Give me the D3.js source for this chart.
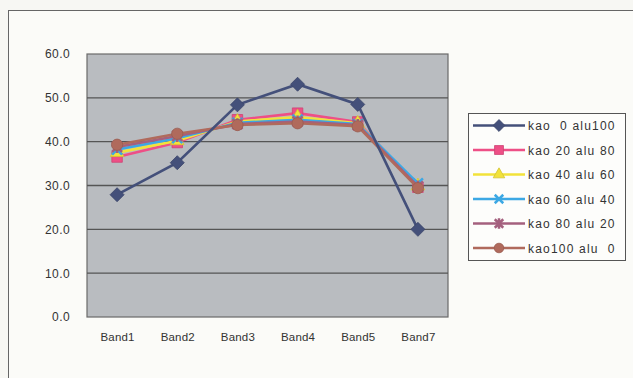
<!DOCTYPE html>
<html>
<head>
<meta charset="utf-8">
<script src="https://cdn.jsdelivr.net/npm/d3@7"></script>
<style>
  body { margin: 0; background: #f7f7f3; }
  text { font-family: "Liberation Sans", Arial, sans-serif; fill: #333; }
</style>
</head>
<body>
<div id="chart"></div>
<script>
// --------------- Data ---------------
const bands = ["Band1", "Band2", "Band3", "Band4", "Band5", "Band7"];
const yTicks = [0, 10, 20, 30, 40, 50, 60];
const seriesNames = ["kao  0 alu100", "kao 20 alu 80", "kao 40 alu 60", "kao 60 alu 40", "kao 80 alu 20", "kao100 alu  0"];
const kao0 = [27.9, 35.2, 48.4, 53.1, 48.5, 20.0];
const kao20 = [36.5, 39.8, 45.0, 46.5, 44.5, 29.6];
const kao40 = [37.5, 40.2, 44.6, 45.6, 44.2, 29.9];
const kao60 = [38.2, 40.8, 44.3, 45.0, 44.0, 30.5];
const kao80 = [38.8, 41.3, 44.0, 44.6, 43.8, 29.8];
const kao100 = [39.3, 41.8, 43.8, 44.2, 43.5, 29.4];

const colors = ["#44507a", "#ee4f86", "#f2e23a", "#3ca8e4", "#a4607e", "#b06a5c"];
const shapes = ["diamond", "square", "triangle", "cross", "star", "circle"];
const allSeries = [kao0, kao20, kao40, kao60, kao80, kao100];

// --------------- Layout ---------------
const W = 633, H = 378;
const PLOT = { left: 87, right: 448, top: 54, bottom: 317 };
const FONT = "'Liberation Sans', Arial, sans-serif";

const svg = d3.select("#chart").append("svg")
  .attr("width", W).attr("height", H);

// outer chart border
svg.append("rect")
  .attr("x", 8.5).attr("y", 10.5)
  .attr("width", 640).attr("height", 380)
  .attr("fill", "#fbfbf8").attr("stroke", "#666").attr("stroke-width", 1);

const x = d3.scalePoint().domain(bands)
  .range([PLOT.left, PLOT.right]).padding(0.5);
const y = d3.scaleLinear().domain([0, 60]).range([PLOT.bottom, PLOT.top]);

// plot background
svg.append("rect")
  .attr("x", PLOT.left).attr("y", PLOT.top)
  .attr("width", PLOT.right - PLOT.left).attr("height", PLOT.bottom - PLOT.top)
  .attr("fill", "#b9bcc0").attr("stroke", "#6a6a6a").attr("stroke-width", 1.2);

// gridlines
svg.append("g").selectAll("line")
  .data(yTicks.filter((t) => t > 0 && t < 60))
  .join("line")
  .attr("x1", PLOT.left).attr("x2", PLOT.right)
  .attr("y1", (d) => y(d)).attr("y2", (d) => y(d))
  .attr("stroke", "#555").attr("stroke-width", 1.3);

// y axis labels
const yAxis = svg.append("g")
  .attr("transform", `translate(${PLOT.left},0)`)
  .call(d3.axisLeft(y).tickValues(yTicks).tickFormat(d3.format(".1f")).tickSize(0).tickPadding(17));
yAxis.select(".domain").remove();
yAxis.selectAll("text").attr("font-size", 12).attr("fill", "#333")
  .attr("letter-spacing", 0.4)
  .style("font-family", FONT);

// x axis labels
const xAxis = svg.append("g")
  .attr("transform", `translate(0,${PLOT.bottom})`)
  .call(d3.axisBottom(x).tickSize(0).tickPadding(16));
xAxis.select(".domain").remove();
xAxis.selectAll("text").attr("font-size", 11.5).attr("fill", "#333")
  .attr("letter-spacing", 0.2)
  .style("font-family", FONT);

// --------------- Markers ---------------
const drawMarker = (g, shape, color, cx, cy, k = 1) => {
  const sym = {
    square: d3.symbolSquare,
    triangle: d3.symbolTriangle,
    circle: d3.symbolCircle,
  };
  const stroke = d3.color(color).darker(0.4);
  if (shape === "cross" || shape === "star") {
    const r = 5 * k;
    let dPath = `M${-r},${-r}L${r},${r}M${-r},${r}L${r},${-r}`;
    if (shape === "star") dPath += `M0,${-r - 1}L0,${r + 1}`;
    g.append("path")
      .attr("transform", `translate(${cx},${cy})`)
      .attr("d", dPath)
      .attr("fill", "none").attr("stroke", color).attr("stroke-width", 2.5);
  } else if (shape === "diamond") {
    const r = 7 * k;
    g.append("path")
      .attr("transform", `translate(${cx},${cy})`)
      .attr("d", `M0,${-r}L${r},0L0,${r}L${-r},0Z`)
      .attr("fill", color).attr("stroke", stroke).attr("stroke-width", 0.8);
  } else {
    const size = { square: 110, triangle: 80, circle: 100 }[shape] * k * k;
    g.append("path")
      .attr("transform", `translate(${cx},${cy})`)
      .attr("d", d3.symbol(sym[shape], size)())
      .attr("fill", color).attr("stroke", stroke).attr("stroke-width", 0.8);
  }
};

// --------------- Lines ---------------
const line = d3.line().x((d, i) => x(bands[i])).y((d) => y(d));
const order = [1, 2, 3, 4, 5, 0];
order.forEach((s) => {
  const g = svg.append("g");
  g.append("path")
    .datum(allSeries[s])
    .attr("d", line)
    .attr("fill", "none")
    .attr("stroke", colors[s])
    .attr("stroke-width", 2.6);
  allSeries[s].forEach((v, i) => drawMarker(g, shapes[s], colors[s], x(bands[i]), y(v)));
});

// --------------- Legend ---------------
const legend = svg.append("g");
legend.append("rect")
  .attr("x", 468.5).attr("y", 113.5).attr("width", 157).attr("height", 147)
  .attr("fill", "#fdfdfb").attr("stroke", "#555").attr("stroke-width", 1);
seriesNames.forEach((name, i) => {
  const ly = 125.5 + i * 24.5;
  legend.append("line")
    .attr("x1", 473).attr("x2", 525).attr("y1", ly).attr("y2", ly)
    .attr("stroke", colors[i]).attr("stroke-width", 2.5);
  drawMarker(legend, shapes[i], colors[i], 499, ly, 0.85);
  legend.append("text")
    .attr("x", 528).attr("y", ly + 4.5)
    .attr("font-size", 12)
    .attr("letter-spacing", 1.2)
    .style("white-space", "pre")
    .attr("xml:space", "preserve")
    .text(name);
});
</script>
</body>
</html>
